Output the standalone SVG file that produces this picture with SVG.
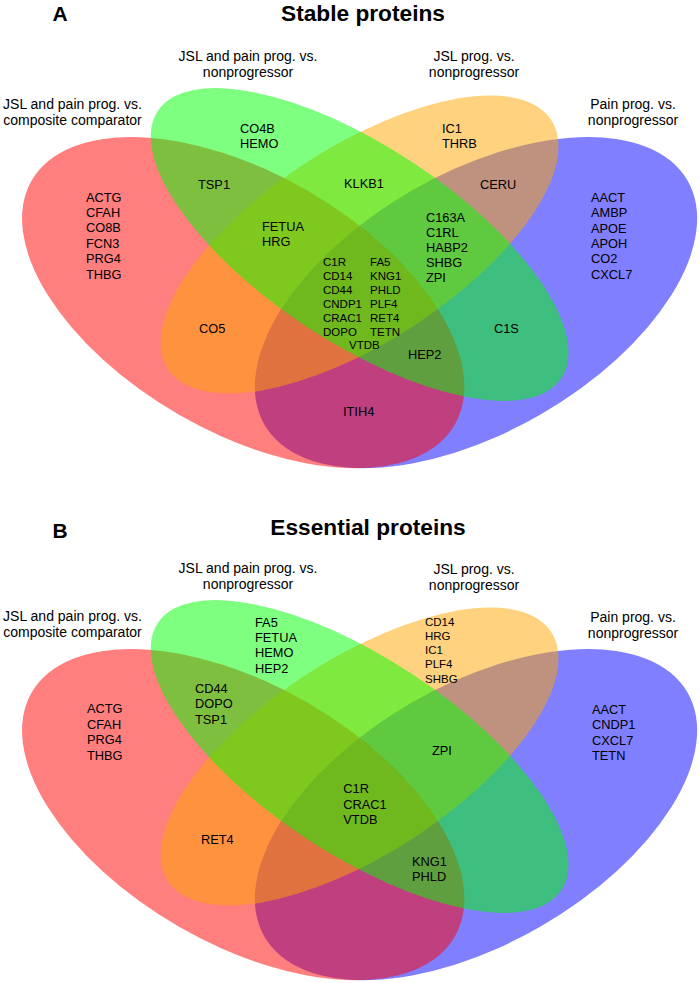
<svg xmlns="http://www.w3.org/2000/svg" width="700" height="983" viewBox="0 0 700 983">
<style>
text { font-family: "Liberation Sans", Arial, sans-serif; fill: #000; }
.p { font-size: 12.8px; }
.c { font-size: 11.5px; }
.lab { font-size: 14px; text-anchor: middle; }
.title { font-size: 22.7px; font-weight: bold; text-anchor: middle; }
.letter { font-size: 21px; font-weight: bold; }
.red { fill: #FF0000; fill-opacity: 0.5; }
.blue { fill: #0000FF; fill-opacity: 0.5; }
.orange { fill: #FFA500; fill-opacity: 0.5; }
.green { fill: #00FF00; fill-opacity: 0.5; }
</style>
<rect width="700" height="983" fill="#FFFFFF"/>

<!-- Panel A -->
<g id="panelA">
  <text class="letter" x="52.5" y="20.7">A</text>
  <text class="title" x="363" y="20.6">Stable proteins</text>
  <g id="A-set-blue">
    <ellipse class="blue" cx="476" cy="302.6" rx="244.25" ry="129.2" transform="rotate(-30 476 302.6)"/>
    <text class="lab" x="633" y="109">Pain prog. vs.</text>
    <text class="lab" x="633" y="125">nonprogressor</text>
  </g>
  <g id="A-set-red">
    <ellipse class="red" cx="243.2" cy="302.6" rx="244.25" ry="129.2" transform="rotate(30 243.2 302.6)"/>
    <text class="lab" x="72.5" y="109">JSL and pain prog. vs.</text>
    <text class="lab" x="72.5" y="125">composite comparator</text>
  </g>
  <g id="A-set-orange">
    <ellipse class="orange" cx="359.6" cy="244.5" rx="228.5" ry="97.7" transform="rotate(-33 359.6 244.5)"/>
    <text class="lab" x="474" y="60.5">JSL prog. vs.</text>
    <text class="lab" x="474" y="76.5">nonprogressor</text>
  </g>
  <g id="A-set-green">
    <ellipse class="green" cx="359.6" cy="244.5" rx="242" ry="97.8" transform="rotate(33.5 359.6 244.5)"/>
    <text class="lab" x="248" y="61">JSL and pain prog. vs.</text>
    <text class="lab" x="248" y="77">nonprogressor</text>
  </g>
  <g id="A-regions">
    <text class="p"><tspan x="86" y="201.5">ACTG</tspan><tspan x="86" y="216.9">CFAH</tspan><tspan x="86" y="232.3">CO8B</tspan><tspan x="86" y="247.7">FCN3</tspan><tspan x="86" y="263.1">PRG4</tspan><tspan x="86" y="278.5">THBG</tspan></text>
    <text class="p"><tspan x="240" y="133">CO4B</tspan><tspan x="240" y="148">HEMO</tspan></text>
    <text class="p" x="198" y="189">TSP1</text>
    <text class="p" x="344" y="187.5">KLKB1</text>
    <text class="p"><tspan x="442" y="133">IC1</tspan><tspan x="442" y="148">THRB</tspan></text>
    <text class="p" x="480" y="189">CERU</text>
    <text class="p"><tspan x="262" y="231">FETUA</tspan><tspan x="262" y="246">HRG</tspan></text>
    <text class="p"><tspan x="426" y="222">C163A</tspan><tspan x="426" y="237">C1RL</tspan><tspan x="426" y="252">HABP2</tspan><tspan x="426" y="267">SHBG</tspan><tspan x="426" y="282">ZPI</tspan></text>
    <text class="p"><tspan x="591" y="202">AACT</tspan><tspan x="591" y="217.3">AMBP</tspan><tspan x="591" y="232.6">APOE</tspan><tspan x="591" y="248">APOH</tspan><tspan x="591" y="263.3">CO2</tspan><tspan x="591" y="278.6">CXCL7</tspan></text>
    <text class="c"><tspan x="323" y="265.7">C1R</tspan><tspan x="323" y="279.7">CD14</tspan><tspan x="323" y="293.7">CD44</tspan><tspan x="323" y="307.7">CNDP1</tspan><tspan x="323" y="321.7">CRAC1</tspan><tspan x="323" y="335.7">DOPO</tspan></text>
    <text class="c"><tspan x="370" y="265.7">FA5</tspan><tspan x="370" y="279.7">KNG1</tspan><tspan x="370" y="293.7">PHLD</tspan><tspan x="370" y="307.7">PLF4</tspan><tspan x="370" y="321.7">RET4</tspan><tspan x="370" y="335.7">TETN</tspan></text>
    <text class="c" x="349" y="349">VTDB</text>
    <text class="p" x="199" y="333">CO5</text>
    <text class="p" x="494" y="333">C1S</text>
    <text class="p" x="408" y="359">HEP2</text>
    <text class="p" x="343" y="416">ITIH4</text>
  </g>
</g>

<!-- Panel B -->
<g id="panelB">
  <text class="letter" x="52.5" y="538.3">B</text>
  <text class="title" x="368" y="535">Essential proteins</text>
  <g id="B-set-blue">
    <ellipse class="blue" cx="476" cy="814.6" rx="244.25" ry="129.2" transform="rotate(-30 476 814.6)"/>
    <text class="lab" x="633" y="621.5">Pain prog. vs.</text>
    <text class="lab" x="633" y="637.5">nonprogressor</text>
  </g>
  <g id="B-set-red">
    <ellipse class="red" cx="243.2" cy="814.6" rx="244.25" ry="129.2" transform="rotate(30 243.2 814.6)"/>
    <text class="lab" x="72.5" y="620.7">JSL and pain prog. vs.</text>
    <text class="lab" x="72.5" y="636.7">composite comparator</text>
  </g>
  <g id="B-set-orange">
    <ellipse class="orange" cx="359.6" cy="756.5" rx="228.5" ry="97.7" transform="rotate(-33 359.6 756.5)"/>
    <text class="lab" x="474" y="574">JSL prog. vs.</text>
    <text class="lab" x="474" y="590">nonprogressor</text>
  </g>
  <g id="B-set-green">
    <ellipse class="green" cx="359.6" cy="756.5" rx="242" ry="97.8" transform="rotate(33.5 359.6 756.5)"/>
    <text class="lab" x="248" y="573.3">JSL and pain prog. vs.</text>
    <text class="lab" x="248" y="589.3">nonprogressor</text>
  </g>
  <g id="B-regions">
    <text class="p"><tspan x="87" y="713.3">ACTG</tspan><tspan x="87" y="728.8">CFAH</tspan><tspan x="87" y="744.3">PRG4</tspan><tspan x="87" y="759.8">THBG</tspan></text>
    <text class="p"><tspan x="255" y="626.7">FA5</tspan><tspan x="255" y="642">FETUA</tspan><tspan x="255" y="657.3">HEMO</tspan><tspan x="255" y="672.7">HEP2</tspan></text>
    <text class="p"><tspan x="195" y="693.3">CD44</tspan><tspan x="195" y="708.4">DOPO</tspan><tspan x="195" y="723.5">TSP1</tspan></text>
    <text class="c"><tspan x="425" y="625.7">CD14</tspan><tspan x="425" y="639.9">HRG</tspan><tspan x="425" y="654.1">IC1</tspan><tspan x="425" y="668.3">PLF4</tspan><tspan x="425" y="682.5">SHBG</tspan></text>
    <text class="p"><tspan x="592" y="714">AACT</tspan><tspan x="592" y="729.4">CNDP1</tspan><tspan x="592" y="744.8">CXCL7</tspan><tspan x="592" y="760.3">TETN</tspan></text>
    <text class="p" x="432" y="755">ZPI</text>
    <text class="p"><tspan x="343.3" y="793.3">C1R</tspan><tspan x="343.3" y="808.8">CRAC1</tspan><tspan x="343.3" y="824.3">VTDB</tspan></text>
    <text class="p" x="201" y="844">RET4</text>
    <text class="p"><tspan x="412" y="866">KNG1</tspan><tspan x="412" y="881">PHLD</tspan></text>
  </g>
</g>
</svg>
